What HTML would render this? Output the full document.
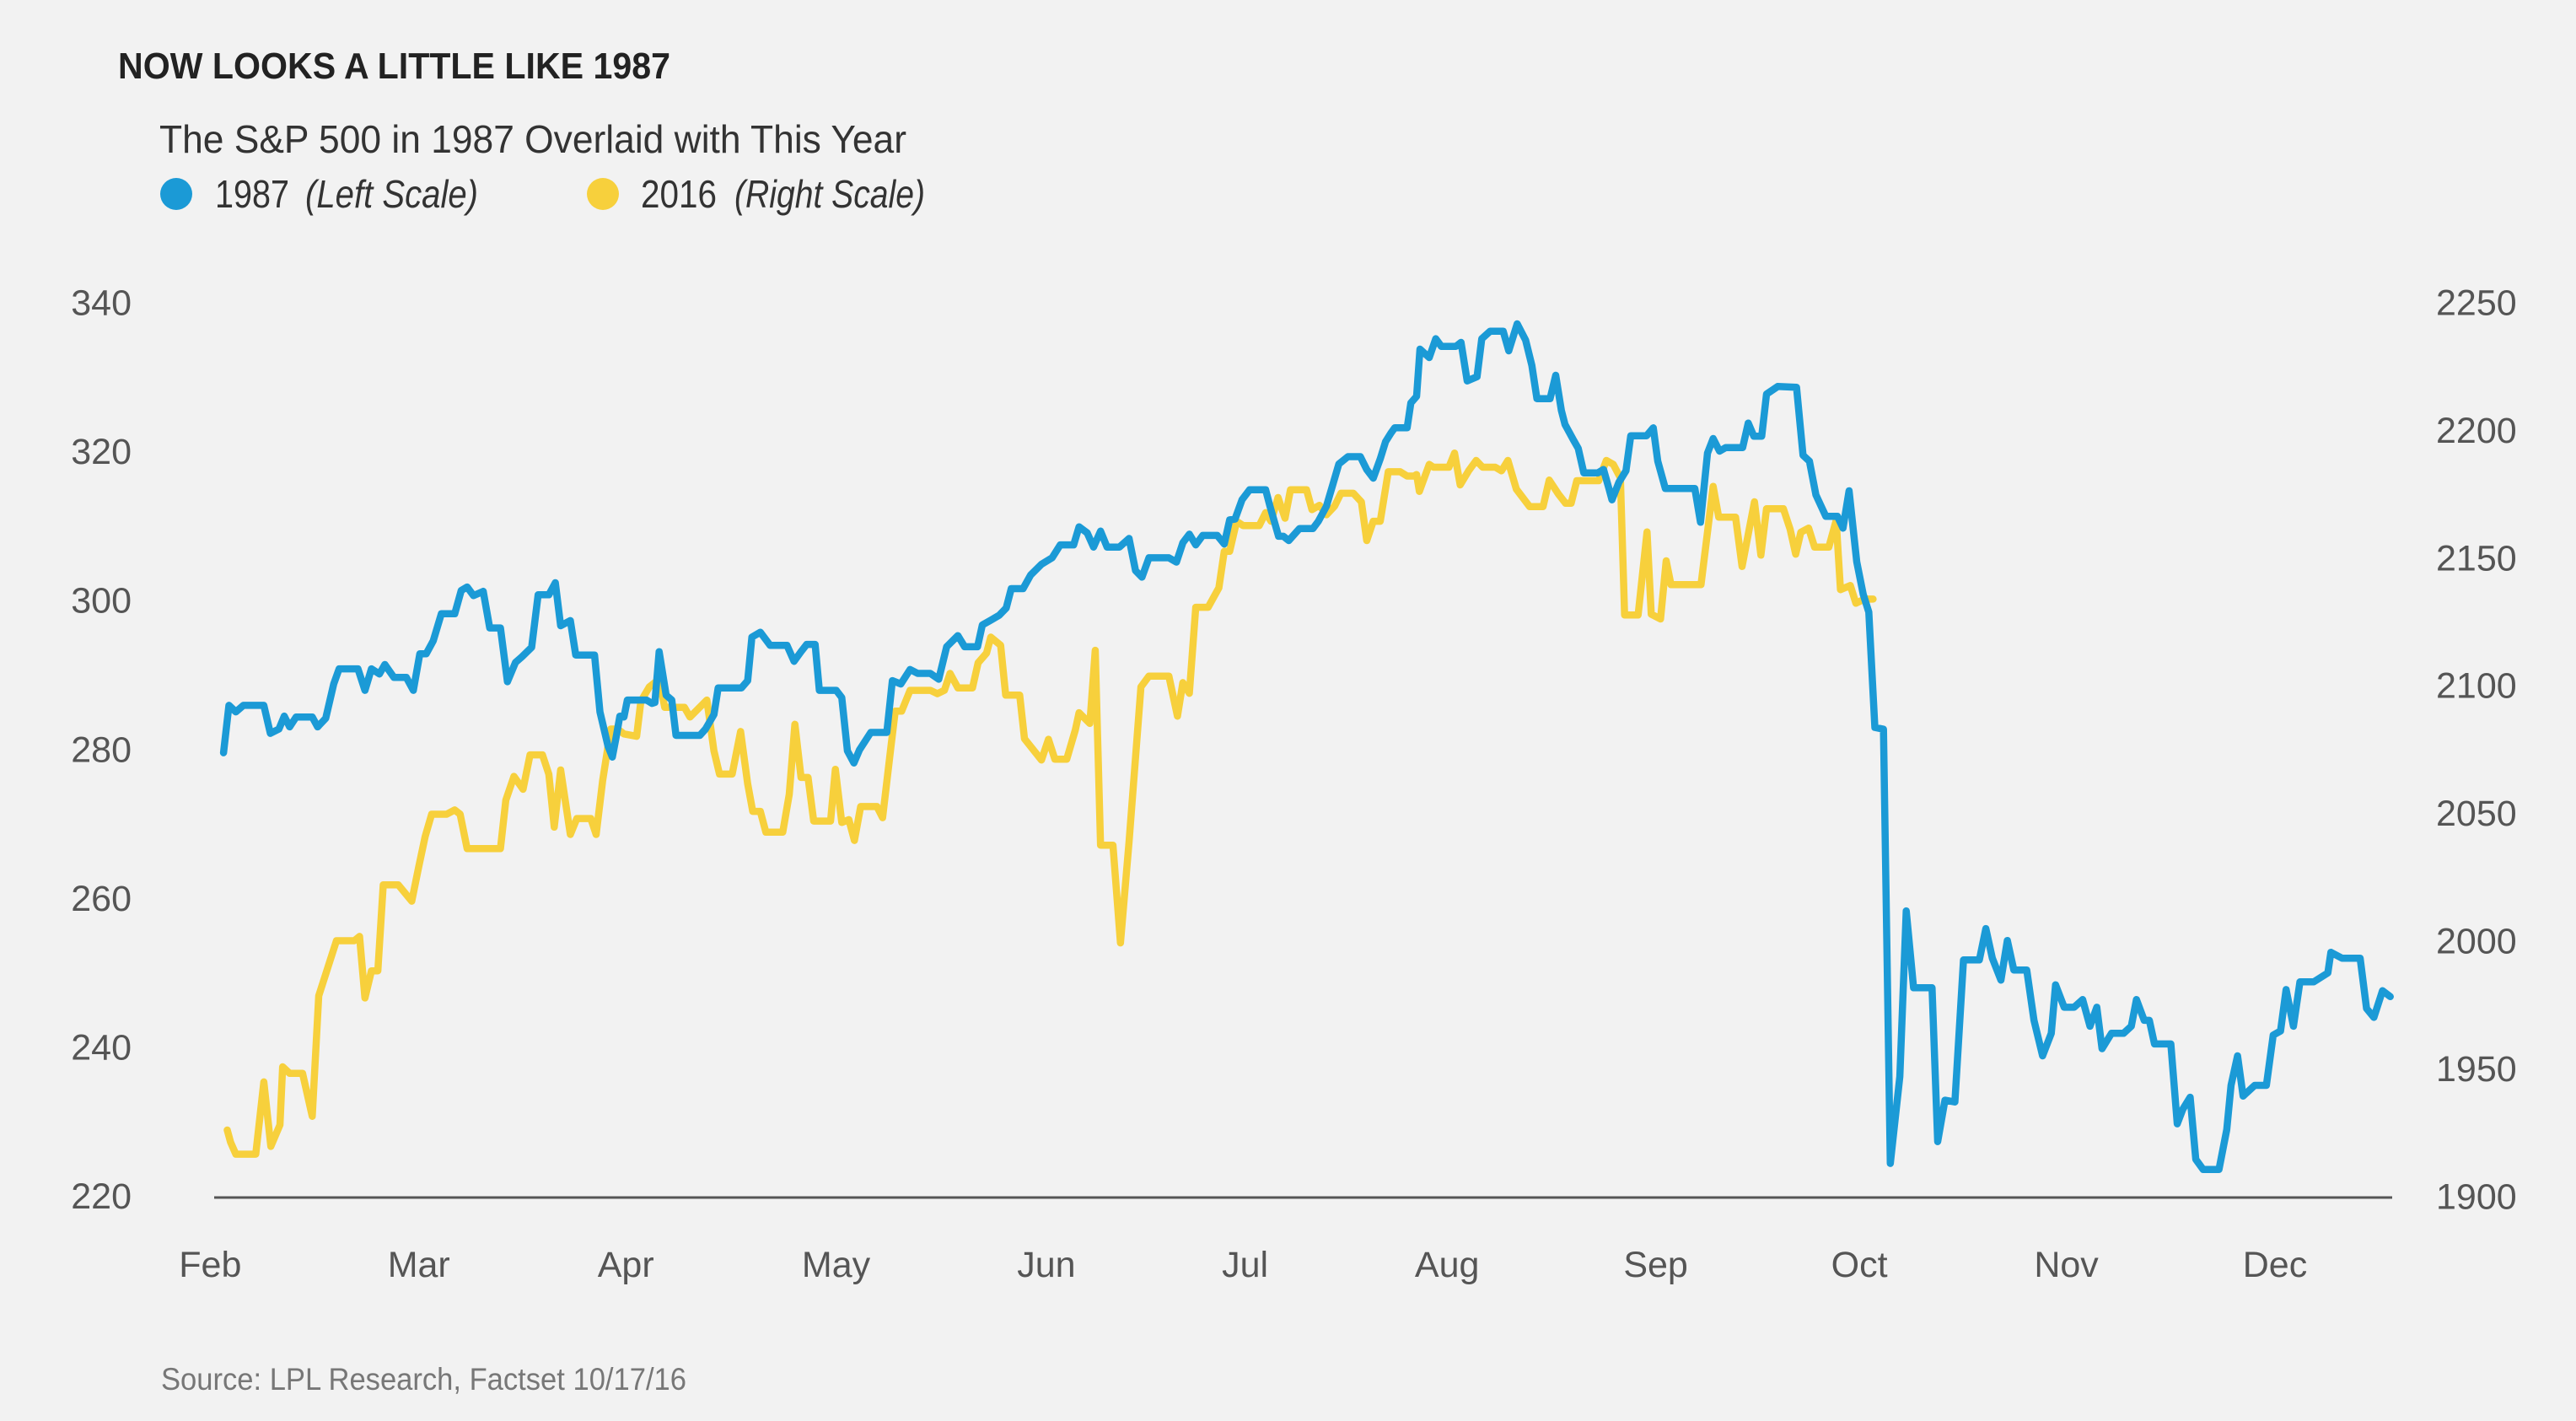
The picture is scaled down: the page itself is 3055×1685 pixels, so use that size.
<!DOCTYPE html>
<html><head><meta charset="utf-8"><style>
html,body{margin:0;padding:0;background:#f2f2f2;}
svg{display:block;}
text{font-family:"Liberation Sans Narrow","Liberation Sans",sans-serif;}
</style></head><body>
<svg id="s" width="3055" height="1685" xmlns="http://www.w3.org/2000/svg">
<rect width="3055" height="1685" fill="#f2f2f2"/>
<text x="140" y="93" font-size="44" font-weight="bold" fill="#222" textLength="655" lengthAdjust="spacingAndGlyphs">NOW LOOKS A LITTLE LIKE 1987</text>
<text x="189" y="181" font-size="46" fill="#333" textLength="886" lengthAdjust="spacingAndGlyphs">The S&amp;P 500 in 1987 Overlaid with This Year</text>
<circle cx="209" cy="230" r="19" fill="#1b9ad6"/>
<text x="255" y="246" font-size="46" fill="#333" textLength="88" lengthAdjust="spacingAndGlyphs">1987</text>
<text x="362" y="246" font-size="46" font-style="italic" fill="#333" textLength="205" lengthAdjust="spacingAndGlyphs">(Left Scale)</text>
<circle cx="715" cy="230" r="19" fill="#f7d03c"/>
<text x="760" y="246" font-size="46" fill="#333" textLength="90" lengthAdjust="spacingAndGlyphs">2016</text>
<text x="871" y="246" font-size="46" font-style="italic" fill="#333" textLength="226" lengthAdjust="spacingAndGlyphs">(Right Scale)</text>
<g id="lt" font-size="43" fill="#555" text-anchor="end"></g>
<g id="rt" font-size="43" fill="#555"></g>
<g id="xt" font-size="43" fill="#555" text-anchor="middle"></g>
<line x1="254" y1="1420" x2="2837" y2="1420" stroke="#555" stroke-width="3"/>
<polyline id="yl" fill="none" stroke="#f7d03c" stroke-width="8.5" stroke-linejoin="round" stroke-linecap="round"/>
<polyline id="bl" fill="none" stroke="#1b9ad6" stroke-width="8.5" stroke-linejoin="round" stroke-linecap="round"/>
<text x="191" y="1648" font-size="37" fill="#777" textLength="623" lengthAdjust="spacingAndGlyphs">Source: LPL Research, Factset   10/17/16</text>
</svg>
<script>
var NS="http://www.w3.org/2000/svg";
function t(g,x,y,s){var e=document.createElementNS(NS,"text");e.setAttribute("x",x);e.setAttribute("y",y);e.textContent=s;document.getElementById(g).appendChild(e);}
var L=[340,320,300,280,260,240,220],R=[2250,2200,2150,2100,2050,2000,1950,1900];
for(var i=0;i<7;i++)t("lt",156,358.5+i*176.6+15,L[i]);
for(var i=0;i<8;i++)t("rt",2889,358.5+i*151.4+15,R[i]);
var M=[["Feb",128],["Mar",255],["Apr",381],["May",509],["Jun",637],["Jul",758],["Aug",881],["Sep",1008],["Oct",1132],["Nov",1258],["Dec",1385]];
M.forEach(function(m){t("xt",m[1]*1.948,1514,m[0]);});
var Z={1:[230,640,1.568,1.96],2:[1200,340,1.568,1.96],3:[2100,340,1.96,1.4255],4:[740,500,3,1.742],5:[1680,340,3,3]};
function tr(z,a){var o=Z[z],r=[];for(var i=0;i<a.length;i+=2)r.push([o[0]+a[i]/o[2],o[1]+a[i+1]/o[3]]);return r;}
var B={
1:[55,495,65,385,78,400,92,385,130,385,142,450,158,440,168,410,178,435,190,412,220,412,230,435,245,415,260,335,270,300,305,300,318,350,330,300,345,312,355,290,372,320,395,320,408,350,420,265,432,265,445,235,460,172,485,172,497,118,508,110,520,130,538,120,550,205,570,205,583,330,598,285,610,272,628,250,640,128,660,128,672,100,682,200,700,188,710,268,745,268,755,400,770,480,778,505,785,460,792,410,800,370,835,370],
4:[0,610,12,575,80,575,100,582,110,580,125,475,150,565,170,575,185,648,270,648,290,635,320,605,335,550,418,550,440,535,455,445,485,435,520,462,580,462,605,495,630,475,650,460,680,460,695,555,755,555,775,570,795,680,818,705,838,678,878,642,935,642,955,535,985,542,1018,512,1045,520,1090,520,1120,532,1148,465,1188,442,1212,465,1258,465,1275,420,1305,410,1335,400,1360,385,1378,345,1420,345,1440,322],
2:[0,740,8,700,22,700,35,670,55,645,75,630,90,600,115,600,125,558,140,572,152,605,165,568,177,605,200,605,218,585,230,660,242,675,255,630,292,630,306,640,318,595,330,575,342,600,355,578,382,578,395,598,405,542,415,540,428,495,442,472,472,472,480,510,496,580,505,580,515,590,535,562,560,562,570,545,585,510,598,455,608,412,625,395,648,395,660,425,672,445,685,400,695,360,705,340,712,328,735,328,742,270,757,148,775,168,788,120,800,140,822,140,835,128,847,218,862,210,875,120,888,102,910,102,922,150,942,82,955,120,966,180,976,260,998,260,1012,205,1030,320,1048,360,1057,375,1068,425,1098,425,1108,440,1118,495,1130,455,1140,400,1152,345,1180,345,1192,328,1202,405,1215,470,1268,470,1282,550,1288,390,1305,350,1318,385,1328,372,1355,372,1368,318,1382,350,1392,350,1408,255,1422,232,1458,232,1468,390,1482,405,1492,488,1508,538,1535,538,1548,565,1558,470,1568,560],
5:[0,390,12,222,45,252,68,185,88,212,140,212,158,198,180,335,215,320,232,185,262,158,308,158,328,228,358,132,388,190,410,280,428,398,475,398,495,315,515,440,528,490,558,545,575,575,595,662,645,662,665,650,685,720,695,758,720,695,745,655,762,530,818,530,842,502,858,620,885,718,990,718,1010,838,1035,592,1055,540,1078,585,1100,572,1160,572,1180,485,1200,532,1228,532,1245,382,1285,355,1320,355],
3:[0,180,20,170,60,170,75,285,90,295,105,352,128,388,155,388,168,408,182,345,200,465,215,520,228,550,242,745,262,748,278,1482,300,1335,315,1055,332,1185,375,1185,388,1445,405,1375,428,1378,448,1138,485,1138,500,1085,515,1135,535,1172,550,1105,565,1155,595,1155,612,1240,632,1300,652,1262,662,1180,682,1218,705,1218,725,1205,742,1250,758,1218,770,1288,792,1262,820,1262,838,1250,850,1205,868,1240,880,1240,892,1280,930,1280,945,1415,958,1390,975,1370,988,1475,1005,1492,1042,1492,1060,1425,1070,1350,1085,1300,1098,1368,1125,1350,1152,1350,1168,1265,1185,1258,1198,1188,1215,1250,1230,1175,1262,1175,1295,1160,1302,1125,1328,1135,1370,1135,1385,1220,1402,1235,1422,1190,1440,1200]};
var Y={
1:[62,1372,68,1400,78,1428,115,1428,130,1260,143,1410,160,1360,165,1225,178,1240,202,1240,220,1340,232,1060,265,932,298,932,308,922,318,1065,330,1002,342,1002,352,802,380,802,405,840,418,760,430,690,442,638,470,638,485,628,495,638,508,718,570,718,580,605,595,550,612,580,625,500,648,500,660,545,670,668,682,535,700,685,712,648,738,648,748,685,760,560,775,440,788,440,800,460,825,460],
4:[0,645,45,650,60,578,90,548,125,532,145,590,215,590,235,610,295,575,320,680,340,728,385,728,415,640,440,748,458,805,485,805,505,848,565,848,588,770,608,625,630,735,655,735,675,825,735,825,752,718,775,828,800,822,820,865,842,795,900,795,920,818,950,670,965,598,988,598,1018,555,1090,555,1115,562,1140,555,1160,520,1188,550,1240,550,1260,498,1290,478,1305,445,1340,462,1358,565,1408,565,1425,655,1440,670],
2:[0,948,12,948,25,1058,55,1100,68,1052,80,1098,102,1098,118,1030,125,990,145,1015,155,845,165,1298,188,1298,202,1525,218,1290,240,930,255,905,292,905,308,998,318,920,330,945,342,745,365,745,385,700,395,615,405,615,418,545,430,555,460,555,472,525,482,545,495,490,508,538,518,472,548,472,558,518,572,508,585,530,600,510,612,480,635,480,650,500,660,590,672,545,685,545,700,430,722,430,735,440,748,440,760,478,778,412,790,425,812,425,822,385,835,460,848,430,865,402,878,425,900,425,912,435,925,402,940,475,962,510,990,510,1000,445,1015,475,1032,502,1045,502,1055,450,1088,450,1105,402,1118,412,1130,440,1140,760,1162,760,1182,568,1190,760,1205,770,1215,640,1228,690,1278,690,1290,540,1305,465,1315,538,1345,538,1358,652,1370,565,1382,498,1392,625,1405,518,1435,518,1448,570,1460,625,1468,570,1482,560,1492,605,1520,605,1535,540,1545,710,1558,690,1568,740],
5:[0,668,10,728,45,632,60,642,115,642,135,592,155,705,185,655,212,618,235,642,280,642,302,655,325,618,355,720,402,782,450,782,472,688,505,738,530,770,550,770,570,690,648,690,675,618,700,632,725,680,740,1168,788,1168,820,872,835,1165,868,1182,888,975,905,1060,1012,1060,1055,710,1075,820,1135,820,1158,995,1202,765,1225,955,1245,790,1305,790,1320,885],
3:[0,378,30,378,45,410,58,452,70,415,88,408,102,440,135,440,152,395,162,512,185,505,198,535,218,528,238,528]};
var seg=[[1,0,740],[4,740,1220],[2,1220,1680],[5,1680,2120],[3,2120,9999]];
function build(D,id){var pts=[];seg.forEach(function(s){if(!D[s[0]])return;tr(s[0],D[s[0]]).forEach(function(p){if(p[0]>=s[1]&&p[0]<s[2])pts.push(p[0].toFixed(1)+","+p[1].toFixed(1));});});document.getElementById(id).setAttribute("points",pts.join(" "));}
build(B,"bl");build(Y,"yl");
</script>
</body></html>
